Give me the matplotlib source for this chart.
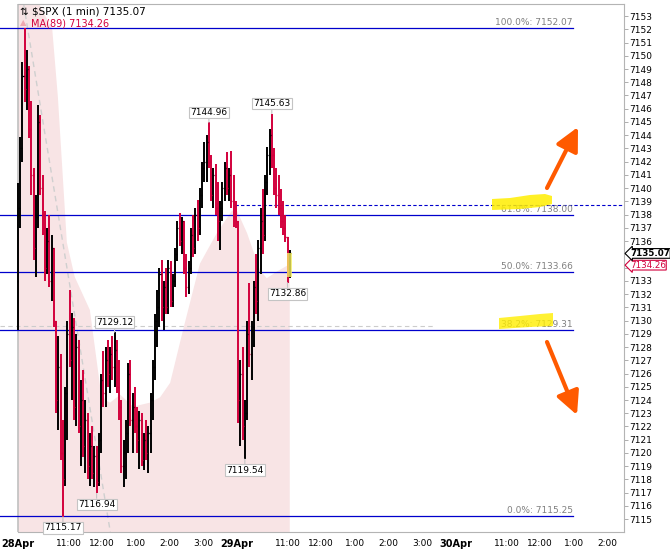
import matplotlib
matplotlib.use('Agg')
import matplotlib.pyplot as plt
from matplotlib.patches import Polygon
import numpy as np

# 1-min $SPX, sampled every 4 minutes (minutes since 28Apr 9:30, sessions back to back)
highs = [7140.4, 7143.9, 7149.5, 7152.07, 7150.4, 7149.2, 7146.6, 7141.5, 7139.5, 7146.3,
         7145.5, 7141.0, 7138.3, 7137.0, 7138.0, 7136.5, 7135.5, 7130.0, 7128.8, 7127.5,
         7122.5, 7125.0, 7130.0, 7132.3, 7130.6, 7130.2, 7129.0, 7128.5, 7125.5, 7126.3,
         7124.0, 7123.0, 7121.5, 7122.0, 7120.5, 7120.5, 7121.5, 7126.0, 7127.7, 7128.0,
         7128.5, 7128.0, 7128.8, 7129.12, 7128.5, 7127.0, 7124.0, 7121.0, 7122.5, 7126.8,
         7127.0, 7124.5, 7125.0, 7123.5, 7123.2, 7123.0, 7121.5, 7122.5, 7122.0, 7124.5,
         7127.0, 7130.5, 7132.3, 7134.0, 7134.6, 7133.0, 7134.0, 7134.6, 7134.5, 7133.5,
         7135.5, 7137.5, 7138.1, 7137.8, 7137.5, 7135.0, 7134.5, 7137.0, 7138.0, 7138.5,
         7139.1, 7140.0, 7142.0, 7143.5, 7144.0, 7144.96, 7142.5, 7141.5, 7141.8, 7140.5,
         7139.0, 7140.5, 7142.0, 7142.7, 7141.5, 7142.8, 7141.0, 7139.0, 7137.5, 7127.0,
         7128.0, 7124.0, 7130.0, 7132.8, 7130.0, 7133.0, 7135.0, 7136.1, 7138.5, 7139.9,
         7141.0, 7143.1, 7144.5, 7145.63, 7143.0, 7141.5, 7141.0, 7139.9, 7139.0, 7138.0,
         7135.9, 7135.3]
lows = [7129.3, 7137.0, 7142.0, 7146.5, 7145.9, 7143.8, 7139.5, 7134.6, 7133.3, 7137.0,
        7139.5, 7136.5, 7133.0, 7133.5, 7132.5, 7131.5, 7129.5, 7123.0, 7121.7, 7119.5,
        7115.17, 7117.5, 7121.0, 7126.5, 7124.0, 7122.5, 7122.0, 7121.5, 7119.0, 7119.7,
        7118.5, 7118.0, 7117.5, 7118.0, 7117.4, 7116.94, 7117.5, 7120.0, 7123.5, 7123.5,
        7125.0, 7124.5, 7125.5, 7125.0, 7124.5, 7122.5, 7118.5, 7117.4, 7118.0, 7120.0,
        7122.0, 7120.0, 7121.5, 7120.0, 7118.8, 7119.0, 7118.7, 7119.5, 7118.5, 7120.0,
        7122.5, 7125.5, 7128.0, 7129.5, 7130.0, 7129.3, 7130.5, 7130.5, 7131.0, 7131.0,
        7132.5, 7134.5, 7135.6, 7135.0, 7133.5, 7131.8, 7132.0, 7133.5, 7134.8, 7135.0,
        7136.0, 7136.5, 7138.5, 7140.5, 7140.5, 7141.5, 7139.0, 7138.5, 7138.0, 7136.0,
        7135.3, 7137.5, 7139.0, 7139.5, 7139.0, 7138.5, 7137.1, 7137.0, 7122.3, 7120.5,
        7121.0, 7119.54, 7122.5, 7126.5, 7125.5, 7128.0, 7130.5, 7130.0, 7133.5, 7135.0,
        7136.0, 7139.5, 7141.0, 7141.5, 7139.5, 7138.5, 7138.0, 7137.0, 7136.5, 7135.9,
        7132.86, 7133.2]
closes = [7138.5, 7143.0, 7148.5, 7147.5, 7149.0, 7144.5, 7141.0, 7135.5, 7137.8, 7145.0,
          7140.0, 7137.0, 7134.0, 7136.0, 7133.0, 7135.5, 7130.0, 7124.0, 7126.5, 7120.0,
          7118.0, 7124.5, 7129.0, 7127.0, 7129.5, 7123.5, 7128.0, 7122.0, 7124.0, 7120.5,
          7122.5, 7119.0, 7120.5, 7118.5, 7119.8, 7117.8, 7121.0, 7125.5, 7124.5, 7127.0,
          7126.0, 7127.5, 7126.5, 7127.8, 7125.0, 7123.5, 7119.0, 7120.0, 7121.5, 7126.0,
          7122.5, 7123.5, 7122.0, 7121.0, 7122.5, 7119.5, 7121.0, 7120.0, 7121.5, 7124.0,
          7126.5, 7130.0, 7131.0, 7133.5, 7131.0, 7132.5, 7131.0, 7134.0, 7131.5, 7133.0,
          7135.0, 7137.0, 7136.0, 7137.5, 7134.0, 7132.5, 7134.0, 7136.5, 7135.5, 7138.0,
          7137.0, 7139.5, 7141.5, 7142.0, 7143.5, 7142.0, 7139.5, 7141.0, 7138.5, 7137.5,
          7138.5, 7140.0, 7141.5, 7140.0, 7141.0, 7139.0, 7138.0, 7137.5, 7124.0, 7126.0,
          7122.0, 7123.0, 7129.0, 7127.5, 7129.5, 7132.5, 7131.5, 7135.5, 7137.5, 7136.5,
          7140.5, 7142.5, 7144.0, 7142.5, 7140.0, 7139.5, 7138.5, 7137.5, 7137.0, 7136.3,
          7133.5, 7135.07]
first_open = 7133.0

# MA(89)
ma_time = [0, 61, 71, 87, 101, 128, 146, 155, 164, 182, 205, 235, 253, 271, 294, 324,
           354, 381, 390, 408, 431, 443, 461, 484]
ma_value = [7157.0, 7152.0, 7146.9, 7135.9, 7133.3, 7130.8, 7125.1, 7124.0, 7123.8, 7124.4,
            7123.5, 7123.8, 7124.2, 7125.3, 7129.3, 7134.3, 7136.6, 7138.3, 7138.3, 7136.6,
            7133.8, 7133.2, 7133.7, 7134.26]

fib_pct = ['100.0%', '61.8%', '50.0%', '38.2%', '0.0%']
fib_levels = [7152.07, 7138.00, 7133.66, 7129.31, 7115.25]

# high / low labels: (bar index, side)
swing_marks = [(20, 'low'), (35, 'low'), (43, 'high'), (85, 'high'),
               (101, 'low'), (113, 'high'), (120, 'low')]

tick_pos = [0, 90, 150, 210, 270, 330, 390, 480, 540, 600, 660, 720, 780, 870, 930, 990, 1050]
tick_lbl = ['28Apr', '11:00', '12:00', '1:00', '2:00', '3:00', '29Apr', '11:00', '12:00',
            '1:00', '2:00', '3:00', '30Apr', '11:00', '12:00', '1:00', '2:00']

last_price = 7135.07
ma_last = 7134.26
prev_level = 7138.73
gray_level = 7129.59

W, H = 670, 549
UP = '#000000'
DOWN = '#d2003c'
BLUE = '#0000cc'

highs = np.array(highs)
lows = np.array(lows)
closes = np.array(closes)
opens = np.r_[first_open, closes[:-1]]
highs = np.maximum(highs, np.maximum(opens, closes))
lows = np.minimum(lows, np.minimum(opens, closes))
times = np.arange(len(closes)) * 4.0

fig = plt.figure(figsize=(W / 100, H / 100), dpi=100)
ax = fig.add_axes([0, 17 / H, 624 / W, 528 / H])
xmin, xmax = -32.06, 1079.3
ymin, ymax = 7114.03, 7153.91
ax.set_xlim(xmin, xmax)
ax.set_ylim(ymin, ymax)

# MA(89) mountain
ax.fill_between(ma_time, ma_value, ymin, color='#f8e4e5', lw=0, zorder=1)

# session start line and trend line
ax.axvline(0, color='#c0c0c0', lw=1.2, zorder=2)
ax.plot([10, 164.4], [ymax, ymin], color='#cfcfcf', lw=1, ls=(0, (4, 3)), zorder=2)
ax.plot([xmin, 743], [gray_level, gray_level], color='#cccccc', lw=0.8, ls=(0, (4, 3)), zorder=2)
ax.plot([386, xmax], [prev_level, prev_level], color=BLUE, lw=0.8, ls=(0, (3, 2)), zorder=3)

# fibonacci levels
fib_end = 988
for pct, lev in zip(fib_pct, fib_levels):
    ax.plot([xmin, fib_end], [lev, lev], color=BLUE, lw=0.9, zorder=3)
    ax.annotate(f'{pct}: {lev:.2f}', xy=(fib_end, lev), xytext=(0, 1),
                textcoords='offset pixels', ha='right', va='bottom',
                color='#808080', fontsize=6.5, zorder=4)

# OHLC bars
cols = np.where(closes >= opens, UP, DOWN)
ax.vlines(times, lows, highs, colors=cols, lw=1.4, zorder=5)
ax.hlines(opens, times - 1.8, times, colors=cols, lw=0.9, zorder=5)
ax.hlines(closes, times, times + 1.8, colors=cols, lw=0.9, zorder=5)

# swing labels
for idx, side in swing_marks:
    val = highs[idx] if side == 'high' else lows[idx]
    dy = 10 if side == 'high' else -11
    ax.annotate(f'{val:.2f}', xy=(times[idx], val), xytext=(0, dy),
                textcoords='offset pixels', ha='center', va='center', fontsize=6.5,
                bbox=dict(boxstyle='square,pad=0.15', fc='white', ec='#c4c4c4', lw=0.8),
                arrowprops=dict(arrowstyle='-', color='#c4c4c4', lw=0.8, shrinkA=0, shrinkB=0),
                zorder=6)

# axes styling
ax.spines['left'].set_visible(False)
for s in ['top', 'right', 'bottom']:
    ax.spines[s].set_color('#b4b4b4')
ax.spines['top'].set_bounds(0, xmax)
ax.spines['bottom'].set_bounds(0, xmax)
ax.yaxis.tick_right()
yticks = list(range(7115, 7154))
ax.set_yticks(yticks)
# the two price tags sit where 7134 / 7135 would be
ax.set_yticklabels(['' if v in (7134, 7135) else str(v) for v in yticks])
ax.tick_params(axis='y', length=3, width=0.6, color='#a0a0a0', labelsize=6.5, pad=1)
ax.set_xticks(tick_pos)
ax.set_xticklabels(tick_lbl)
ax.tick_params(axis='x', length=0, labelsize=6.5, pad=5)
for lab in ax.get_xticklabels():
    if 'Apr' in lab.get_text():
        lab.set_fontweight('bold')
        lab.set_fontsize(7)

# price tags on the right axis
ax.annotate(f'{last_price:.2f}', xy=(1, last_price), xycoords=('axes fraction', 'data'),
            xytext=(6, 0), textcoords='offset pixels', ha='left', va='center',
            fontsize=6.3, fontweight='bold',
            bbox=dict(boxstyle='larrow,pad=0.04', fc='white', ec='black', lw=0.8),
            annotation_clip=False, zorder=10)
ax.annotate(f'{ma_last:.2f}', xy=(1, ma_last), xycoords=('axes fraction', 'data'),
            xytext=(6, -1), textcoords='offset pixels', ha='left', va='center',
            fontsize=6.3, color=DOWN,
            bbox=dict(boxstyle='larrow,pad=0.04', fc='white', ec=DOWN, lw=0.8),
            annotation_clip=False, zorder=9)

# header
fig.text(20 / W, 1 - 11 / H, '\u21c5 $SPX (1 min) 7135.07', fontsize=7.5, va='center')
fig.text(20 / W, 1 - 23 / H, '\u25b2', fontsize=6, va='center', color='#f0a8b0')
fig.text(31 / W, 1 - 23 / H, f'MA(89) {ma_last:.2f}', fontsize=7, va='center', color=DOWN)


def px(pts):
    return [(x / W, 1 - y / H) for x, y in pts]


# yellow marker strokes
yellow = '#ffee00'
fig.add_artist(Polygon(px([(492, 199), (510, 198), (530, 195), (545, 194), (552, 196),
                           (552, 204), (540, 207), (520, 209), (492, 210)]),
                       closed=True, fc=yellow, ec='none', alpha=0.85,
                       transform=fig.transFigure, zorder=5))
fig.add_artist(Polygon(px([(499, 318), (520, 316), (540, 314), (553, 313), (553, 326),
                           (530, 327), (499, 329)]),
                       closed=True, fc=yellow, ec='none', alpha=0.8,
                       transform=fig.transFigure, zorder=5))
fig.add_artist(Polygon(px([(287, 253), (292, 253), (292, 277), (287, 277)]),
                       closed=True, fc='#f4ee60', ec='none', alpha=0.8,
                       transform=fig.transFigure, zorder=5))

# orange direction arrows
for tail, tip in [((547, 188), (578, 127)), ((547, 342), (577, 415))]:
    ax.annotate('', xy=px([tip])[0], xycoords='figure fraction',
                xytext=px([tail])[0], textcoords='figure fraction',
                arrowprops=dict(arrowstyle='-|>,head_length=1.4,head_width=0.7',
                                lw=3, color='#ff5a00', shrinkA=0, shrinkB=0),
                annotation_clip=False, zorder=11)

fig.savefig('out.png', dpi=100)
